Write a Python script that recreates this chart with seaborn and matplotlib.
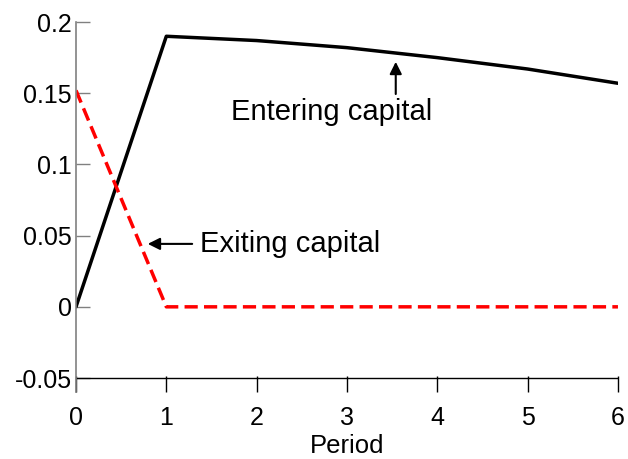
import numpy as np
import pandas as pd
import matplotlib
matplotlib.use("Agg")
import matplotlib.pyplot as plt
import seaborn as sns

# 데이터
period = [0, 1, 2, 3, 4, 5, 6]
entering = [0.0, 0.190, 0.187, 0.182, 0.175, 0.167, 0.157]
exiting = [0.152, 0.0, 0.0, 0.0, 0.0, 0.0, 0.0]
xticks = [0, 1, 2, 3, 4, 5, 6]
yticks = [-0.05, 0, 0.05, 0.1, 0.15, 0.2]
ytick_labels = ["-0.05", "0", "0.05", "0.1", "0.15", "0.2"]

df = pd.DataFrame({"Period": period, "Entering": entering, "Exiting": exiting})

sns.set_style("white")
plt.rcParams['font.family'] = ['Liberation Sans', 'DejaVu Sans']
plt.rcParams['text.color'] = 'black'
plt.rcParams['axes.labelcolor'] = 'black'
plt.rcParams['xtick.color'] = 'black'
plt.rcParams['ytick.color'] = 'black'

fig = plt.figure(figsize=(6.28, 4.59), dpi=100)
ax = fig.add_axes([0.121, 0.146, 0.863, 0.806])

sns.lineplot(data=df, x="Period", y="Entering", ax=ax, color="black", linewidth=2.5)
sns.lineplot(data=df, x="Period", y="Exiting", ax=ax, color="red", linewidth=2.5,
             dashes=False)
ax.lines[-1].set_dashes([3.8, 1.8])

ax.set_xlim(0, 6)
ax.set_ylim(-0.0598, 0.2)
ax.axhline(-0.05, color="black", linewidth=1.0, zorder=1)

ax.set_xticks(xticks)
ax.set_yticks(yticks)
ax.set_yticklabels(ytick_labels)
ax.tick_params(axis="both", direction="in", labelsize=18, bottom=True, left=True,
               labelcolor="black")
ax.tick_params(axis="x", length=11.5, color="black", width=1.0, pad=10)
ax.tick_params(axis="y", length=10, color="gray", width=1.0, pad=3)

for s in ["top", "right", "bottom"]:
    ax.spines[s].set_visible(False)
ax.spines["left"].set_color("gray")
ax.spines["left"].set_linewidth(1.2)

ax.set_xlabel("Period", fontsize=18.5, labelpad=3)
ax.set_ylabel("")

# 주석
ax.annotate("", xy=(3.54, 0.174), xytext=(3.54, 0.1475),
            arrowprops=dict(arrowstyle="-|>", color="black", lw=1.5, mutation_scale=18))
ax.text(1.716, 0.137, "Entering capital", fontsize=21, va="center", ha="left")
ax.annotate("", xy=(0.764, 0.0442), xytext=(1.317, 0.0442),
            arrowprops=dict(arrowstyle="-|>", color="black", lw=1.5, mutation_scale=18))
ax.text(1.373, 0.0442, "Exiting capital", fontsize=21, va="center", ha="left")

fig.savefig("out.png", dpi=100)
